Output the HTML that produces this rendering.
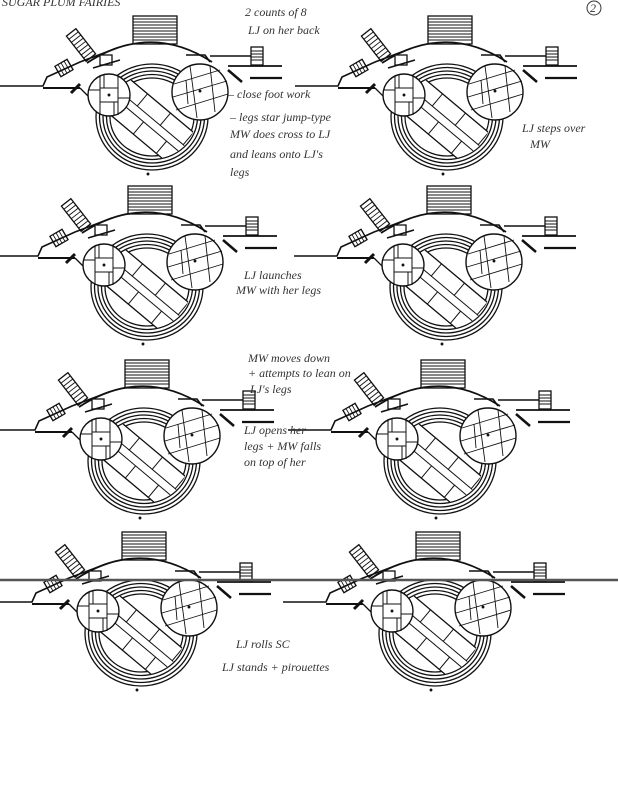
<!DOCTYPE html>
<html><head><meta charset="utf-8"><style>
html,body{margin:0;padding:0;background:#fff;}
svg{display:block;}
.h{font-family:"Liberation Serif",serif;font-style:italic;font-size:12px;fill:#333;}
</style></head><body>
<svg width="618" height="800" viewBox="0 0 618 800" xmlns="http://www.w3.org/2000/svg">
<defs>
<clipPath id="inner"><ellipse cx="152" cy="117" rx="44" ry="42"/></clipPath>
<g id="d" stroke="#111" fill="none" stroke-width="1.3">
  <rect x="133" y="16" width="44" height="28" fill="#fff"/>
  <path d="M133 19H177M133 22H177M133 25H177M133 28H177M133 31H177M133 34H177M133 37H177M133 40H177" stroke-width="1"/>
  <path d="M87 63 Q150 22 212 62" stroke-width="1.8"/>
  <g transform="translate(81,45) rotate(52)">
    <rect x="-16" y="-6" width="32" height="12" fill="#fff"/>
    <path d="M-12 -6V6M-8 -6V6M-4 -6V6M0 -6V6M4 -6V6M8 -6V6M12 -6V6" stroke-width="0.9"/>
  </g>
  <g transform="translate(64,68) rotate(-30)">
    <rect x="-7" y="-6" width="14" height="12" fill="#fff"/>
    <path d="M-3.5 -6V6M0 -6V6M3.5 -6V6" stroke-width="0.9"/>
  </g>
  <path d="M0 86H43L47 77L80 62L117 48" stroke-width="1.6"/>
  <path d="M43 88H80" stroke-width="2"/>
  <path d="M71 93L80 84" stroke-width="3"/>
  <path d="M80 88L90 98"/>
  <path d="M210 56H252" stroke-width="1.6"/>
  <rect x="251" y="47" width="12" height="18" fill="#fff"/>
  <path d="M251 51H263M251 54H263M251 57H263M251 60H263" stroke-width="0.9"/>
  <path d="M228 66H282" stroke-width="1.8"/>
  <path d="M250 78H282" stroke-width="2.2"/>
  <path d="M228 70L242 82" stroke-width="2.5"/>
  <ellipse cx="152" cy="117" rx="56" ry="53"/>
  <ellipse cx="152" cy="117" rx="52.5" ry="49.5"/>
  <ellipse cx="152" cy="117" rx="49" ry="46"/>
  <ellipse cx="152" cy="117" rx="45.5" ry="42.5"/>
  <ellipse cx="152" cy="117" rx="42" ry="39"/>
  <ellipse cx="152" cy="117" rx="40" ry="38" fill="#fff" stroke="none"/>
  <g clip-path="url(#inner)">
    <g transform="translate(150,122) rotate(40)">
      <rect x="-60" y="-20" width="120" height="40" fill="#fff"/>
      <path d="M-60 -4H60M-60 4H60M-20 -20V-4M10 -20V-4M-5 4V20M25 4V20M40 -20V-4" stroke-width="1"/>
    </g>
  </g>
  <rect x="100" y="55" width="12" height="10" fill="#fff"/>
  <path d="M93 68L120 60M186 55H205L210 62" stroke-width="1.6"/>
  <circle cx="109" cy="95" r="21" fill="#fff" stroke-width="1.4"/>
  <path d="M100 76V115M118 76V115M100 88H118M100 102H118M88 90H100M118 98H130M104 74V88M114 102V116" stroke-width="1"/>
  <circle cx="200" cy="92" r="28" fill="#fff" stroke-width="1.4"/>
  <path d="M173 97L227 81M176 110L228 94M174 84L220 70M190 66L197 118M210 66L215 112M186 80L188 104" stroke-width="0.9"/>
  <circle cx="200" cy="91" r="0.8" fill="#111"/>
  <circle cx="109" cy="95" r="0.8" fill="#111"/>
  <circle cx="148" cy="174" r="0.8" fill="#111"/>
</g>
</defs>
<rect width="618" height="800" fill="#fff"/>
<use href="#d" x="0" y="0"/>
<use href="#d" x="295" y="0"/>
<use href="#d" x="-5" y="170"/>
<use href="#d" x="294" y="170"/>
<use href="#d" x="-8" y="344"/>
<use href="#d" x="288" y="344"/>
<use href="#d" x="-11" y="516"/>
<use href="#d" x="283" y="516"/>
<path d="M0 580H618" stroke="#555" stroke-width="2.5"/>
<text x="2" y="6" class="h" font-size="9">SUGAR PLUM FAIRIES</text>
<circle cx="594" cy="8" r="7" fill="none" stroke="#333"/>
<text x="590" y="12" class="h">2</text>
<text x="245" y="16" class="h">2 counts of 8</text>
<text x="248" y="34" class="h">LJ on her back</text>
<text x="228" y="98" class="h">– close foot work</text>
<text x="230" y="121" class="h">– legs star jump-type</text>
<text x="230" y="138" class="h">MW does cross to LJ</text>
<text x="230" y="158" class="h">and leans onto LJ's</text>
<text x="230" y="176" class="h">legs</text>
<text x="522" y="132" class="h">LJ steps over</text>
<text x="530" y="148" class="h">MW</text>
<text x="244" y="279" class="h">LJ launches</text>
<text x="236" y="294" class="h">MW with her legs</text>
<text x="248" y="362" class="h">MW moves down</text>
<text x="248" y="377" class="h">+ attempts to lean on</text>
<text x="250" y="393" class="h">LJ's legs</text>
<text x="244" y="434" class="h">LJ opens her</text>
<text x="244" y="450" class="h">legs + MW falls</text>
<text x="244" y="466" class="h">on top of her</text>
<text x="236" y="648" class="h">LJ rolls SC</text>
<text x="222" y="671" class="h">LJ stands + pirouettes</text>
</svg>
</body></html>
